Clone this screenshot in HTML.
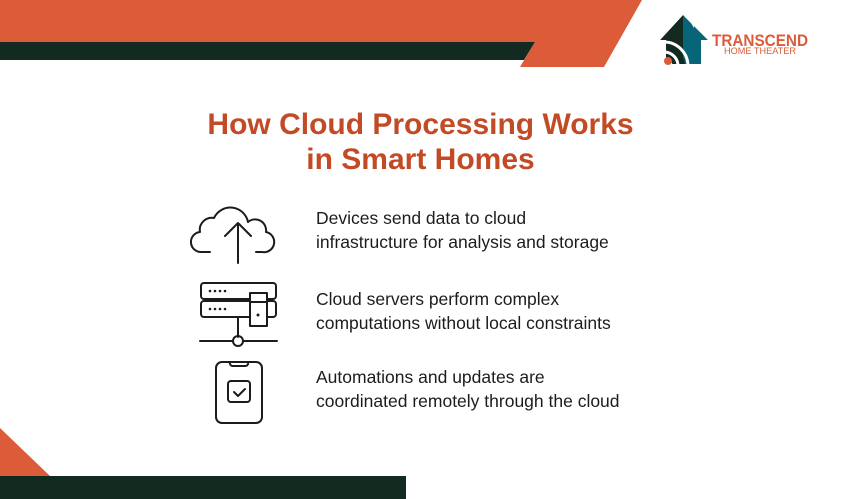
<!DOCTYPE html>
<html><head><meta charset="utf-8"><style>
body{margin:0;width:860px;height:499px;overflow:hidden;background:#fff;font-family:"Liberation Sans",sans-serif;position:relative}
.t{position:absolute;left:0;width:841px;text-align:center;color:#c24b26;font-weight:bold;font-size:30px;line-height:35px}
.p{position:absolute;left:316px;font-size:17.5px;line-height:24px;color:#1c1c1c}
</style></head><body>
<svg width="860" height="499" style="position:absolute;left:0;top:0">
<defs><clipPath id="h"><polygon points="683,15 660,40 666,40 666,64 701,64 701,40 708,40"/></clipPath></defs>
<polygon points="0,0 642,0 604,67 520,67 535,42 0,42" fill="#dc5c39"/>
<polygon points="0,42 535,42 524,60 0,60" fill="#132a20"/>
<polygon points="0,428 50,476 0,476" fill="#dc5c39"/>
<rect x="0" y="476" width="406" height="23" fill="#132a20"/>
<!-- logo -->
<g clip-path="url(#h)">
<polygon points="683,15 660,40 666,40 666,64 685,64 685,15" fill="#132a20"/>
<polygon points="683,15 708,40 701,40 701,64 683,64" fill="#076578"/>
<polygon points="688,18 694,18 694,28" fill="#fff"/>
<g fill="none">
<circle cx="664" cy="66" r="24" stroke="#fff" stroke-width="3"/>
<circle cx="664" cy="66" r="19" stroke="#132a20" stroke-width="4"/>
<circle cx="664" cy="66" r="14" stroke="#fff" stroke-width="3"/>
<circle cx="664" cy="66" r="10" stroke="#132a20" stroke-width="3"/>
<circle cx="664" cy="66" r="7" stroke="#fff" stroke-width="3"/>
</g>
</g>
<circle cx="668" cy="61" r="4" fill="#dc5c39"/>
<text x="712" y="46" font-family="Liberation Sans Narrow,Liberation Sans,sans-serif" font-size="17" font-weight="bold" fill="#dc5c39" textLength="96" lengthAdjust="spacingAndGlyphs">TRANSCEND</text>
<text x="724" y="54" font-family="Liberation Sans Narrow,Liberation Sans,sans-serif" font-size="9" fill="#dc5c39" textLength="72" lengthAdjust="spacingAndGlyphs">HOME THEATER</text>
<g fill="none" stroke="#1c1c1c" stroke-width="2" stroke-linecap="round" stroke-linejoin="round">
<path d="M210,252 h-8 a10,10 0 0 1 -2,-20 a12,12 0 0 1 14,-14 a18,18 0 0 1 34,4 a11,11 0 0 1 18,10 a10,10 0 0 1 -4,20 h-6"/>
<path d="M238,263 v-40 M225,236 l13,-13 l13,13"/>
<rect x="201" y="283" width="75" height="16" rx="3"/>
<rect x="201" y="301" width="75" height="16" rx="3"/>
<rect x="250" y="293" width="17" height="33" fill="#fff"/>
<path d="M250,302 h17"/>
<path d="M238,317 v20 M200,341 h33 M243,341 h34"/>
<circle cx="238" cy="341" r="5"/>
<rect x="216" y="362" width="46" height="61" rx="6"/>
<path d="M230,362 a3,3 0 0 0 3,4 h12 a3,3 0 0 0 3,-4"/>
<rect x="228" y="381" width="22" height="21" rx="3"/>
<path d="M234,392 l4,4 l7,-7"/>
</g>
<g fill="#1c1c1c"><circle cx="210" cy="291" r="1.3"/><circle cx="215" cy="291" r="1.3"/><circle cx="220" cy="291" r="1.3"/><circle cx="225" cy="291" r="1.3"/>
<circle cx="210" cy="309" r="1.3"/><circle cx="215" cy="309" r="1.3"/><circle cx="220" cy="309" r="1.3"/><circle cx="225" cy="309" r="1.3"/><circle cx="258" cy="315" r="1.5"/></g>
</svg>
<div class="t" style="top:107px">How Cloud Processing Works<br>in Smart Homes</div>
<div class="p" style="top:206px">Devices send data to cloud<br>infrastructure for analysis and storage</div>
<div class="p" style="top:287px">Cloud servers perform complex<br>computations without local constraints</div>
<div class="p" style="top:365px">Automations and updates are<br>coordinated remotely through the cloud</div>
</body></html>
